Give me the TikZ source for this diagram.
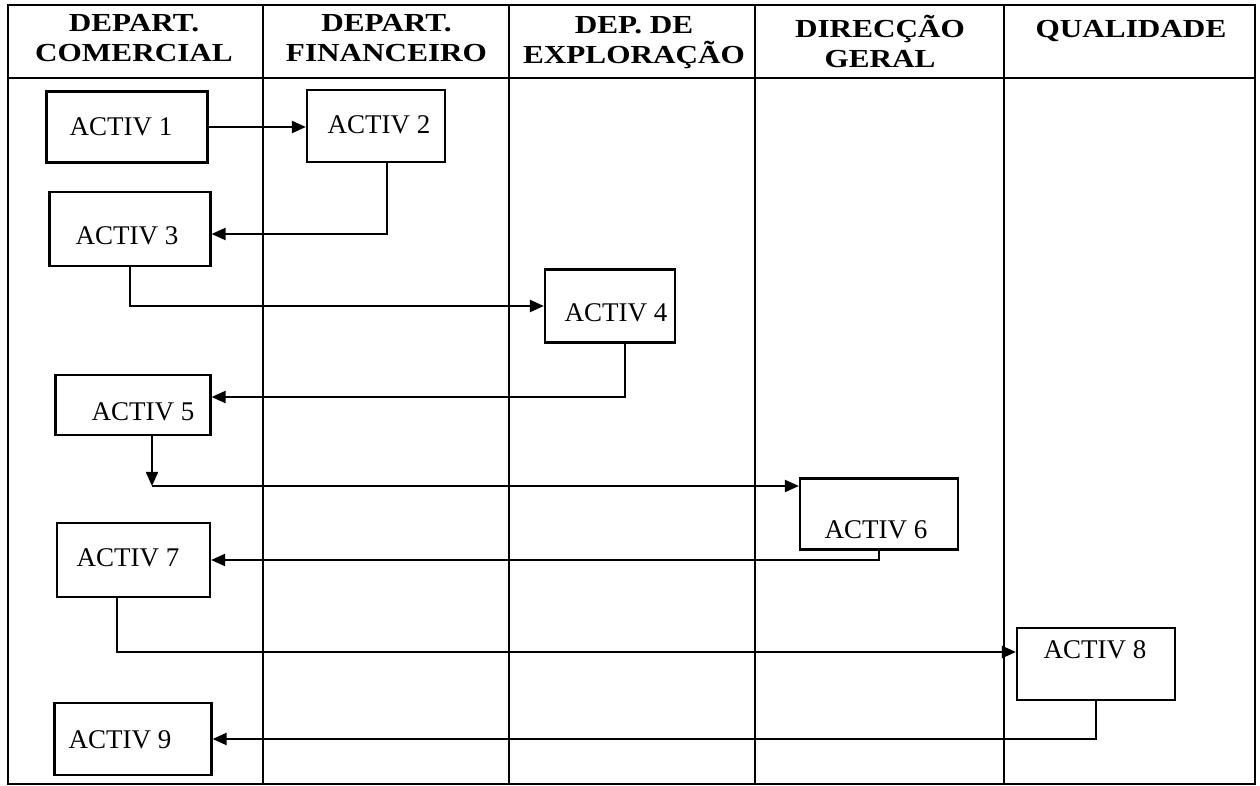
\documentclass[tikz,border=0pt]{standalone}
\usepackage{fontspec}
\setmainfont{Liberation Serif}
\newfontfamily\headfont[FakeStretch=1.2]{Liberation Serif Bold}
\usetikzlibrary{arrows.meta}
\begin{document}
\begin{tikzpicture}[x=0.5pt,y=-0.5pt,
  frame/.style={line width=1.1pt},
  head/.style={font=\headfont\fontsize{13}{15.2}\selectfont, align=center, inner sep=0pt, anchor=base},
  actbox/.style={draw, line width=1.1pt, inner sep=0pt},
  acttext/.style={font=\fontsize{13.5}{14}\selectfont, inner sep=0pt},
  conn/.style={line width=1.1pt, -{Triangle[length=7pt,width=6pt]}}]
\useasboundingbox (0,0) rectangle (1260,786);
% frame and lanes
\draw[frame] (8,5) rectangle (1255,784);
\draw[frame] (8,78) -- (1255,78);
\foreach \x in {263,509,755,1004} \draw[frame] (\x,5) -- (\x,784);
% headers
\node[head] (h1) at (134,62) {DEPART.\\COMERCIAL};
\node[head] (h2) at (386.5,62) {DEPART.\\FINANCEIRO};
\node[head] (h3) at (634,64) {DEP. DE\\EXPLORAÇÃO};
\node[head] (h4) at (880,68) {DIRECÇÃO\\GERAL};
\node[head] (h5) at (1131,38) {QUALIDADE};
% activity boxes
\node[actbox, minimum width=80.5pt, minimum height=35.5pt] (a1) at (127,127) {};
\node[actbox, minimum width=69pt, minimum height=36pt] (a2) at (376,126) {};
\node[actbox, minimum width=80.5pt, minimum height=37pt] (a3) at (130,229) {};
\node[actbox, minimum width=65pt, minimum height=36.5pt] (a4) at (610,306) {};
\node[actbox, minimum width=77.5pt, minimum height=30pt] (a5) at (133,405) {};
\node[actbox, minimum width=79pt, minimum height=35.5pt] (a6) at (879,514) {};
\node[actbox, minimum width=76.5pt, minimum height=37pt] (a7) at (133.5,560) {};
\node[actbox, minimum width=79pt, minimum height=36pt] (a8) at (1096,664) {};
\node[actbox, minimum width=78.5pt, minimum height=36pt] (a9) at (133,739) {};
% activity labels
\node[acttext] (t1) at (121,127) {ACTIV 1};
\node[acttext] (t2) at (379,125) {ACTIV 2};
\node[acttext] (t3) at (127,236) {ACTIV 3};
\node[acttext] (t4) at (616,313) {ACTIV 4};
\node[acttext] (t5) at (143,412) {ACTIV 5};
\node[acttext] (t6) at (876,530) {ACTIV 6};
\node[acttext] (t7) at (128,558) {ACTIV 7};
\node[acttext] (t8) at (1095,650) {ACTIV 8};
\node[acttext] (t9) at (120,740) {ACTIV 9};
% connector corners
\coordinate (c5) at (152,486);
% connectors
\draw[conn] (a1.east) -- (a2.west |- a1.east);
\draw[conn] (a2.south -| 387,0) |- (a3.east |- 0,234);
\draw[conn] (a3.south -| 130,0) |- (a4.west);
\draw[conn] (a4.south -| 625,0) |- (a5.east |- 0,397);
\draw[conn] (a5.south -| c5) -- (c5);
\draw[conn] (c5) -- (a6.west |- c5);
\draw[conn] (a6.south) |- (a7.east);
\draw[conn] (a7.south -| 117,0) |- (a8.west |- 0,652);
\draw[conn] (a8.south) |- (a9.east);
\end{tikzpicture}
\end{document}
